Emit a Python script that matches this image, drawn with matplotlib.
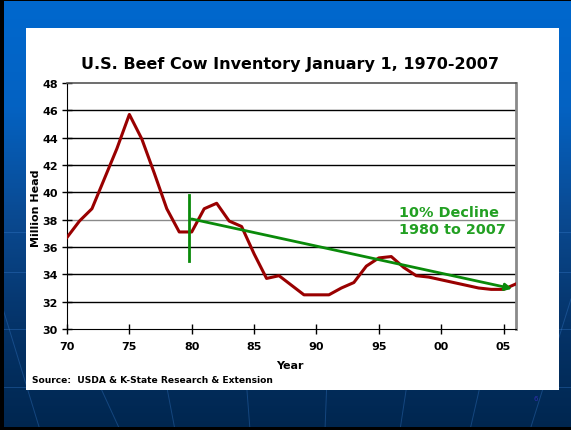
import numpy as np
import matplotlib
matplotlib.use("Agg")
import matplotlib.pyplot as plt
from matplotlib.colors import LinearSegmentedColormap

# January 1 beef cow inventory, million head
years = list(range(1970, 2007))
cows = [36.7, 37.9, 38.8, 41.0, 43.2, 45.7, 43.9, 41.4, 38.8, 37.1,
        37.1, 38.8, 39.2, 37.9, 37.5, 35.5, 33.7, 33.9, 33.2, 32.5,
        32.5, 32.5, 33.0, 33.4, 34.6, 35.2, 35.3, 34.5, 33.9, 33.8,
        33.6, 33.4, 33.2, 33.0, 32.9, 32.9, 33.3]

tick_years = [1970, 1975, 1980, 1985, 1990, 1995, 2000, 2005]
tick_labels = ["70", "75", "80", "85", "90", "95", "00", "05"]
y_ticks = list(range(30, 49, 2))

# trend arrow 1980 -> 2007
trend_x = [1980.0, 2005.7]
trend_y = [38.05, 32.95]
marker_x = 1979.8
marker_y = [35.0, 39.8]

W, H = 571, 431
fig = plt.figure(figsize=(W / 100, H / 100), dpi=100)

# slide background
bg = fig.add_axes([0, 0, 1, 1])
bg.set_xlim(0, W)
bg.set_ylim(H, 0)
bg.axis("off")
cmap = LinearSegmentedColormap.from_list("slide", ["#0068ce", "#0462c2", "#0a4a92", "#05346a", "#00264f"])
grad = np.linspace(0, 1, 200).reshape(-1, 1)
bg.imshow(grad, cmap=cmap, aspect="auto", extent=[0, W, H, 0], zorder=0)
for yy in [233, 273, 330, 388]:
    bg.plot([0, W], [yy, yy], color="#3a7fd0", lw=0.7, alpha=0.35, zorder=1)
for x0, x1 in [(0, 40), (60, 120), (150, 175), (240, 250), (330, 325), (420, 400), (500, 470), (571, 530)]:
    bg.plot([x0, x1], [300, H], color="#3a7fd0", lw=0.7, alpha=0.35, zorder=1)
bg.add_patch(plt.Rectangle((26, 29), 533, 362, facecolor="white", edgecolor="none", zorder=2))
bg.add_patch(plt.Rectangle((0, 0), W, 1.5, facecolor="black", zorder=3))
bg.add_patch(plt.Rectangle((0, 0), 4, H, facecolor="black", zorder=3))
bg.add_patch(plt.Rectangle((0, 428), W, 3, facecolor="black", zorder=3))

bg.text(290, 64, "U.S. Beef Cow Inventory January 1, 1970-2007", ha="center", va="center",
        fontsize=11.5, fontweight="bold", color="black", zorder=4)
bg.text(290, 366, "Year", ha="center", va="center", fontsize=8, fontweight="bold", zorder=4)
bg.text(32, 381, "Source:  USDA & K-State Research & Extension", ha="left", va="center",
        fontsize=6.6, fontweight="bold", zorder=4)
bg.text(36, 208, "Million Head", ha="center", va="center", rotation=90,
        fontsize=8, fontweight="bold", zorder=4)
bg.text(536, 399, "6", ha="center", va="center", fontsize=5, color="#3030b0", zorder=4)

# chart
left, right, top, bottom = 67, 516, 84, 330
ax = fig.add_axes([left / W, (H - bottom) / H, (right - left) / W, (bottom - top) / H])
ax.set_facecolor("white")
ax.set_xlim(1970, 2006)
ax.set_ylim(30, 48)

for v in y_ticks[1:-1]:
    ax.axhline(v, color="#8a8a8a" if v == 38 else "black", lw=1.0, zorder=1)

ax.plot(years, cows, color="#990000", lw=2.2, zorder=3, clip_on=True)

ax.plot([marker_x, marker_x], marker_y, color="#0a8a0a", lw=2, zorder=4)
ax.annotate("", xy=(trend_x[1], trend_y[1]), xytext=(trend_x[0], trend_y[0]),
            arrowprops=dict(arrowstyle="-|>", color="#0a8a0a", lw=2, mutation_scale=10,
                            shrinkA=0, shrinkB=0), zorder=4)
ax.text(1996.6, 37.95, "10% Decline\n1980 to 2007", ha="left", va="center",
        fontsize=10.4, fontweight="bold", color="#22a022", linespacing=1.3, zorder=5)

ax.set_xticks(tick_years)
ax.set_xticklabels(tick_labels)
ax.set_yticks(y_ticks)
ax.tick_params(axis="both", direction="inout", length=7, width=1, labelsize=8, pad=3)
ax.tick_params(axis="x", pad=5)
for lab in ax.get_xticklabels() + ax.get_yticklabels():
    lab.set_fontweight("bold")

ax.spines["left"].set_color("black")
ax.spines["bottom"].set_color("black")
ax.spines["top"].set_color("#555555")
ax.spines["right"].set_color("#8a8a8a")
ax.spines["right"].set_linewidth(2)
ax.spines["top"].set_linewidth(1.2)

fig.savefig("out.png", dpi=100)
